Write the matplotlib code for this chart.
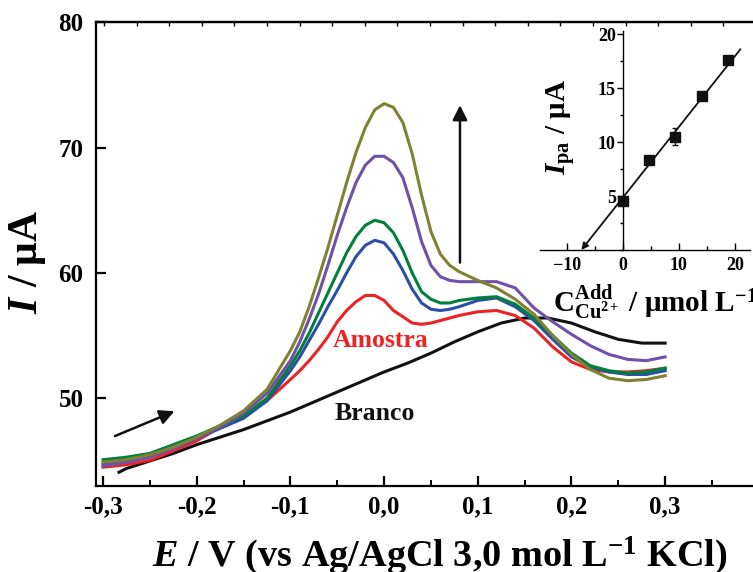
import matplotlib
matplotlib.use("Agg")
import matplotlib.pyplot as plt
from matplotlib.ticker import MultipleLocator, FuncFormatter

plt.rcParams.update({
    "font.family": ["Liberation Serif", "DejaVu Serif"],
    "font.weight": "bold",
    "axes.labelweight": "bold",
    "mathtext.fontset": "custom",
    "mathtext.rm": "Liberation Serif:bold",
    "mathtext.it": "Liberation Serif:italic:bold",
    "mathtext.bf": "Liberation Serif:bold",
    "axes.linewidth": 1.6,
})

# ---- main voltammograms (E / V, I / uA) ----
E = [-0.30, -0.275, -0.25, -0.225, -0.20, -0.175, -0.15, -0.125, -0.10, -0.09,
     -0.08, -0.07, -0.06, -0.05, -0.04, -0.03, -0.02, -0.01, 0.00, 0.01,
     0.02, 0.03, 0.04, 0.05, 0.06, 0.07, 0.08, 0.10, 0.12, 0.14,
     0.16, 0.18, 0.20, 0.22, 0.24, 0.26, 0.28, 0.30]

i_olive = [44.9, 45.1, 45.5, 46.1, 46.9, 47.85, 49.0, 50.7, 53.8, 55.3,
           57.3, 59.6, 62.0, 64.6, 67.2, 69.6, 71.6, 73.0, 73.5, 73.2,
           72.0, 69.5, 66.2, 63.3, 61.5, 60.6, 60.1, 59.4, 58.8, 57.9,
           56.7, 55.0, 53.5, 52.3, 51.6, 51.4, 51.5, 51.8]
i_purple = [44.6, 44.9, 45.3, 46.0, 46.8, 47.7, 48.8, 50.4, 53.0, 54.5,
            56.3, 58.3, 60.6, 63.0, 65.2, 67.2, 68.6, 69.3, 69.3, 68.8,
            67.6, 65.2, 62.5, 60.6, 59.7, 59.4, 59.3, 59.3, 59.3, 58.8,
            57.2, 56.1, 55.1, 54.2, 53.5, 53.1, 53.0, 53.3]
i_green = [45.1, 45.3, 45.6, 46.3, 47.0, 47.8, 48.6, 50.0, 52.6, 53.8,
           55.2, 56.8, 58.4, 60.0, 61.6, 62.9, 63.8, 64.2, 64.0, 63.2,
           61.8, 60.0, 58.5, 57.9, 57.6, 57.6, 57.8, 58.0, 58.1, 57.5,
           56.4, 55.0, 53.6, 52.6, 52.2, 52.0, 52.1, 52.4]
i_blue = [44.75, 45.0, 45.4, 46.0, 46.8, 47.6, 48.4, 49.8, 52.2, 53.3,
          54.6, 55.9, 57.3, 58.6, 60.0, 61.3, 62.2, 62.6, 62.4, 61.5,
          60.2, 58.7, 57.6, 57.1, 57.0, 57.1, 57.3, 57.8, 58.0, 57.3,
          56.2, 54.7, 53.3, 52.5, 52.1, 51.9, 51.9, 52.2]
i_red = [44.5, 44.7, 45.05, 45.8, 46.6, 47.7, 48.6, 49.8, 51.5, 52.2,
         53.0, 53.9, 54.9, 56.1, 57.0, 57.7, 58.2, 58.2, 57.8, 57.0,
         56.5, 56.0, 55.9, 56.0, 56.2, 56.4, 56.6, 56.9, 57.0, 56.6,
         55.6, 54.1, 52.9, 52.3, 52.1, 52.1, 52.2, 52.4]

E_branco = [-0.283, -0.275, -0.25, -0.225, -0.20, -0.175, -0.15, -0.125, -0.10,
            -0.075, -0.05, -0.025, 0.00, 0.025, 0.05, 0.075, 0.10, 0.125, 0.15,
            0.175, 0.20, 0.225, 0.25, 0.275, 0.30]
i_branco = [44.1, 44.4, 45.0, 45.6, 46.3, 46.9, 47.5, 48.2, 48.9,
            49.7, 50.5, 51.3, 52.1, 52.8, 53.6, 54.5, 55.3, 56.0, 56.4,
            56.4, 56.0, 55.3, 54.7, 54.4, 54.4]

# ---- inset: standard additions ----
c_add = [0.0, 4.7, 9.4, 14.1, 18.8]
i_pa = [4.5, 8.35, 10.5, 14.3, 17.6]
i_pa_err = [0.3, 0.3, 0.8, 0.3, 0.3]
fit_slope = 0.655
fit_intercept = 4.85
fit_x_end = 21.0

OLIVE = "#7f8232"
PURPLE = "#7050a8"
GREEN = "#00803c"
BLUE = "#2a4fa5"
RED = "#ee2222"
BLACK = "#111111"

fig = plt.figure(figsize=(7.53, 5.72), dpi=100)
ax = fig.add_axes([0.1275, 0.1503, 0.935, 0.811])

ax.plot(E_branco, i_branco, color=BLACK, lw=2.2)
ax.plot(E, i_red, color=RED, lw=2.2)
ax.plot(E, i_blue, color=BLUE, lw=2.2)
ax.plot(E, i_green, color=GREEN, lw=2.2)
ax.plot(E, i_purple, color=PURPLE, lw=2.2)
ax.plot(E, i_olive, color=OLIVE, lw=2.2)

ax.set_xlim(-0.3075, 0.444)
ax.set_ylim(43.0, 80.0)
ax.xaxis.set_minor_locator(MultipleLocator(0.05))
ax.yaxis.set_major_locator(MultipleLocator(10))
ax.set_xticks([-0.3, -0.2, -0.1, 0.0, 0.1, 0.2, 0.3])
ax.xaxis.set_major_formatter(FuncFormatter(
    lambda v, p: f"{v:.1f}".replace("-0.0", "0.0").replace(".", ",")))
ax.tick_params(which="major", direction="in", length=7, width=1.6,
               labelsize=18)
ax.tick_params(which="minor", direction="in", length=4, width=1.4)
ax.tick_params(axis="x", pad=7)
ax.tick_params(axis="y", pad=9)
ax.spines["right"].set_visible(False)

# small ticks along the top frame
top = ax.secondary_xaxis("top", functions=(lambda e: (e + 0.299) / 0.0348,
                                           lambda u: u * 0.0348 - 0.299))
top.xaxis.set_major_locator(MultipleLocator(1))
top.tick_params(direction="in", length=3, width=1.0, labeltop=False)

ax.set_xlabel(r"$E$ / V (vs Ag/AgCl 3,0 mol L$^{\mathrm{-1}}$ KCl)",
              fontsize=27.5)
ax.set_ylabel(r"$I$ / μA", fontsize=30)
ax.xaxis.set_label_coords(0.489, -0.105)
ax.yaxis.set_label_coords(-0.068, 0.483)

ax.text(-0.004, 54.6, "Amostra", color=RED, fontsize=18.5, ha="center",
        va="center")
ax.text(-0.01, 48.8, "Branco", color=BLACK, fontsize=18.5, ha="center",
        va="center")
ax.annotate("", xy=(-0.221, 49.05), xytext=(-0.290, 46.9),
            arrowprops=dict(arrowstyle="-|>", color=BLACK, lw=1.8,
                            mutation_scale=22))
ax.annotate("", xy=(0.081, 73.6), xytext=(0.081, 60.6),
            arrowprops=dict(arrowstyle="-|>", color=BLACK, lw=1.8,
                            mutation_scale=22))

# ---- inset ----
ins = fig.add_axes([0.717, 0.563, 0.279, 0.383])
ins.patch.set_alpha(0)
ins.errorbar(c_add, i_pa, yerr=i_pa_err, fmt="s", color=BLACK, ms=6.5,
             elinewidth=1.0, capsize=2, zorder=3)
x0 = -fit_intercept / fit_slope
ins.annotate("", xy=(x0, 0.0), xytext=(fit_x_end, fit_slope * fit_x_end + fit_intercept),
             arrowprops=dict(arrowstyle="-|>", color=BLACK, lw=1.3,
                             mutation_scale=10, shrinkA=0, shrinkB=0))
ins.set_xlim(-14.8, 22.7)
ins.set_ylim(0, 20.3)
ins.spines["left"].set_position(("data", 0))
ins.spines["top"].set_visible(False)
ins.spines["right"].set_visible(False)
for s in ("left", "bottom"):
    ins.spines[s].set_linewidth(1.0)
ins.xaxis.set_minor_locator(MultipleLocator(5))
ins.yaxis.set_minor_locator(MultipleLocator(2.5))
ins.set_yticks([5, 10, 15, 20])
ins.set_xticks([-10, 0, 10, 20])
ins.tick_params(axis="x", which="major", direction="in", length=5, width=1.0,
                labelsize=13, pad=5)
ins.tick_params(axis="x", which="minor", direction="in", length=3, width=1.0)
ins.tick_params(axis="y", which="major", direction="out", length=4, width=1.0,
                labelsize=13, pad=1)
ins.tick_params(axis="y", which="minor", direction="out", length=2.5, width=1.0)
ins.set_ylabel(r"$I_{\mathrm{pa}}$ / μA", fontsize=21)
ins.yaxis.set_label_coords(0.175, 0.56)
ins.set_xlabel(r"C$_{\mathrm{Cu^{2+}}}^{\mathrm{Add}}$ / μmol L$^{\mathrm{-1}}$",
               fontsize=21, ha="left")
ins.xaxis.set_label_coords(0.062, -0.15)

fig.savefig("out.png", dpi=100)
